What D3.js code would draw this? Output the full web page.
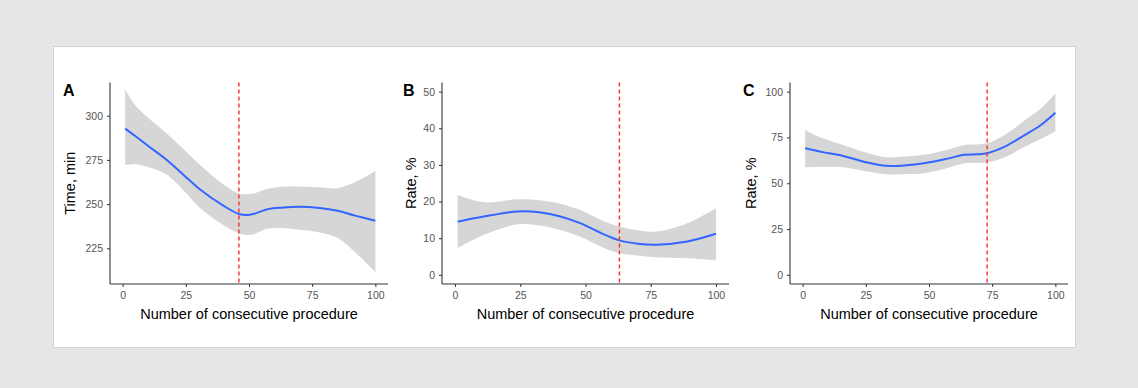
<!DOCTYPE html>
<html>
<head>
<meta charset="utf-8">
<script src="https://cdn.jsdelivr.net/npm/d3@7"></script>
<style>
  body { margin: 0; background: #e6e6e6; }
  svg { display: block; font-family: "Liberation Sans", Arial, sans-serif; }
</style>
</head>
<body>
<svg id="chart" width="1138" height="388"></svg>
<script>
// x positions (number of consecutive procedure)
var procA = [1, 5, 10, 17, 25, 30, 40, 46, 49, 52, 57, 63, 70, 78, 85, 92, 100];
var fitA  = [292.7, 288.5, 283, 275.5, 265.4, 259, 249, 244.4, 243.8, 244.5, 247, 248, 248.5, 247.8, 246.2, 243.5, 240.6];
var loA   = [272, 272.5, 271, 267, 256.4, 248.5, 238, 233.5, 232.5, 233, 236, 236.5, 235.5, 234, 231, 222.7, 211.5];
var hiA   = [314.9, 306, 299, 290.5, 279.9, 273, 261, 256, 255.6, 256, 258.5, 259.8, 260, 259.5, 259, 262.5, 268.8];

var procB = [1, 11, 24, 33, 40, 48, 56, 63, 70, 77, 89, 100];
var fitB  = [14.5, 15.9, 17.3, 17.0, 16.0, 14.1, 11.4, 9.4, 8.5, 8.2, 9.1, 11.2];
var loB   = [7.3, 10.9, 13.8, 13.4, 12.3, 10.4, 7.7, 5.9, 5.3, 4.8, 4.5, 3.9];
var hiB   = [21.8, 19.8, 20.6, 20.3, 19.5, 17.7, 15, 13.2, 12.2, 11.8, 14.1, 18.2];

var procC = [1, 8, 16, 25, 33, 41, 48, 57, 64, 69, 73, 80, 88, 94, 100];
var fitC  = [69.1, 67.0, 64.9, 61.5, 59.5, 59.8, 60.9, 63.3, 65.5, 65.8, 66.4, 70, 76.4, 81.5, 88.5];
var loC   = [58.7, 59, 58.7, 56.5, 54.9, 55, 55.5, 58.2, 60.9, 61, 61.3, 64.2, 70, 74, 78.2];
var hiC   = [79.1, 74.5, 70.9, 66.8, 64.2, 64.6, 65.5, 68.2, 70.9, 71.2, 71.8, 76.4, 84.5, 90.5, 99];

var xTicks = [0, 25, 50, 75, 100];
var yTicksA = [225, 250, 275, 300];
var yTicksB = [0, 10, 20, 30, 40, 50];
var yTicksC = [0, 25, 50, 75, 100];
var cutoffs = [46, 63, 73];
var letters = ["A", "B", "C"];
var yTitles = ["Time, min", "Rate, %", "Rate, %"];
var xTitle = "Number of consecutive procedure";

var svg = d3.select("#chart");

// white figure card
svg.append("rect")
  .attr("x", 53.5).attr("y", 46.5)
  .attr("width", 1022).attr("height", 301)
  .attr("fill", "#fff")
  .attr("stroke", "#d2d2d2");

var plotTop = 82.5, plotBottom = 284;

var panels = [
  { x: procA, fit: fitA, lo: loA, hi: hiA, left: 110, right: 388, yDomain: [204.8, 318.8], yTicks: yTicksA, letterX: 63, titleX: 75 },
  { x: procB, fit: fitB, lo: loB, hi: hiB, left: 442, right: 729, yDomain: [-2.5, 52.5], yTicks: yTicksB, letterX: 403, titleX: 416 },
  { x: procC, fit: fitC, lo: loC, hi: hiC, left: 790, right: 1068, yDomain: [-5, 105], yTicks: yTicksC, letterX: 743, titleX: 756 }
];

panels.forEach(function (p, i) {
  var x = d3.scaleLinear().domain([-5, 105]).range([p.left, p.right]);
  var y = d3.scaleLinear().domain(p.yDomain).range([plotBottom, plotTop]);
  var g = svg.append("g");

  var rows = p.x.map(function (v, j) { return { x: v, fit: p.fit[j], lo: p.lo[j], hi: p.hi[j] }; });

  // confidence band
  g.append("path")
    .datum(rows)
    .attr("fill", "#999999")
    .attr("fill-opacity", 0.4)
    .attr("d", d3.area()
      .curve(d3.curveCatmullRom.alpha(0.5))
      .x(function (d) { return x(d.x); })
      .y0(function (d) { return y(d.lo); })
      .y1(function (d) { return y(d.hi); }));

  // smoothed fit
  g.append("path")
    .datum(rows)
    .attr("fill", "none")
    .attr("stroke", "#3366FF")
    .attr("stroke-width", 2)
    .attr("d", d3.line()
      .curve(d3.curveCatmullRom.alpha(0.5))
      .x(function (d) { return x(d.x); })
      .y(function (d) { return y(d.fit); }));

  // cut-off line
  g.append("line")
    .attr("x1", x(cutoffs[i])).attr("x2", x(cutoffs[i]))
    .attr("y1", plotTop).attr("y2", plotBottom)
    .attr("stroke", "#ff2a2a")
    .attr("stroke-width", 1.4)
    .attr("stroke-dasharray", "4,3");

  // axes
  var xAxis = g.append("g")
    .attr("transform", "translate(0," + plotBottom + ")")
    .call(d3.axisBottom(x).tickValues(xTicks).tickSize(3).tickPadding(5));
  var yAxis = g.append("g")
    .attr("transform", "translate(" + p.left + ",0)")
    .call(d3.axisLeft(y).tickValues(p.yTicks).tickSize(3).tickPadding(4));

  [xAxis, yAxis].forEach(function (a) {
    a.select(".domain").attr("stroke", "#333").attr("stroke-width", 1.1);
    a.selectAll(".tick line").attr("stroke", "#333");
    a.selectAll(".tick text")
      .style("fill", "#555555")
      .style("font-size", "10.5px")
      .style("font-family", "'Liberation Sans', Arial, sans-serif");
  });
  // ggplot axis lines have no end caps
  xAxis.select(".domain").attr("d", "M" + p.left + ",0H" + p.right);
  yAxis.select(".domain").attr("d", "M0," + plotTop + "V" + plotBottom);

  // titles
  g.append("text")
    .attr("x", (p.left + p.right) / 2).attr("y", 319)
    .attr("text-anchor", "middle")
    .style("font-size", "14.5px")
    .attr("fill", "#000")
    .text(xTitle);

  g.append("text")
    .attr("transform", "translate(" + p.titleX + "," + ((plotTop + plotBottom) / 2) + ") rotate(-90)")
    .attr("text-anchor", "middle")
    .style("font-size", "14.5px")
    .attr("fill", "#000")
    .text(yTitles[i]);

  g.append("text")
    .attr("x", p.letterX).attr("y", 96)
    .style("font-size", "16px")
    .style("font-weight", "bold")
    .attr("fill", "#000")
    .text(letters[i]);
});
</script>
</body>
</html>
